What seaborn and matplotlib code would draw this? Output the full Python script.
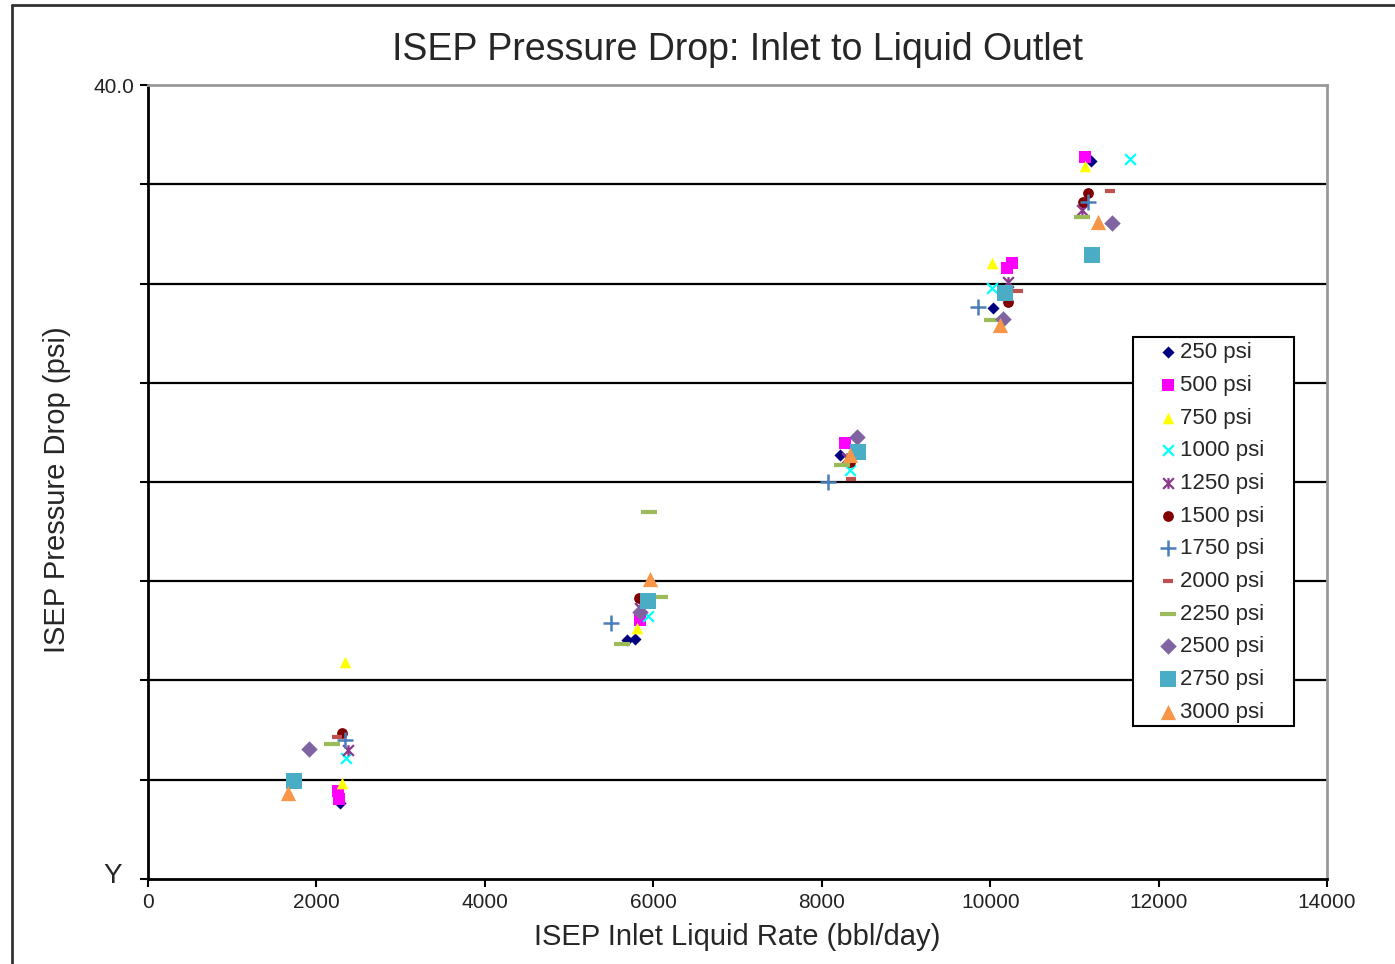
import numpy as np
import pandas as pd
import seaborn as sns
import matplotlib.pyplot as plt
from matplotlib.path import Path
from matplotlib.lines import Line2D
from matplotlib.patches import Rectangle

# ==========================================
# 1. DATA
# ==========================================
series_labels = ['250 psi', '500 psi', '750 psi', '1000 psi', '1250 psi', '1500 psi',
                 '1750 psi', '2000 psi', '2250 psi', '2500 psi', '2750 psi', '3000 psi']

rate_250 = [2280, 5783, 5684, 8217, 10036, 11193]
drop_250 = [3.85, 12.07, 12.04, 21.36, 28.75, 36.19]

rate_500 = [2255, 2265, 5842, 8276, 10200, 10260, 11126]
drop_500 = [4.45, 4.05, 13.05, 21.95, 30.8, 31.05, 36.39]

rate_750 = [2339, 2300, 5810, 8300, 10018, 11126]
drop_750 = [10.93, 4.85, 12.62, 21.2, 31.02, 35.92]

rate_1000 = [2351, 5933, 8330, 10018, 11660]
drop_1000 = [6.08, 13.25, 20.6, 29.75, 36.26]

rate_1250 = [2371, 5842, 8300, 10215, 11087]
drop_1250 = [6.5, 13.65, 21.2, 30.09, 33.7]

rate_1500 = [2300, 5834, 8336, 10215, 11166, 11106]
drop_1500 = [7.34, 14.14, 21.0, 29.08, 34.55, 34.12]

rate_1750 = [2339, 5498, 8078, 9859, 11166]
drop_1750 = [7.0, 12.91, 20.02, 28.83, 34.12]

rate_2000 = [2239, 8343, 10334, 11423]
drop_2000 = [7.17, 20.13, 29.62, 34.67]

rate_2250 = [2181, 5953, 6080, 5625, 8237, 10018, 11087]
drop_2250 = [6.8, 18.47, 14.19, 11.84, 20.86, 28.16, 33.33]

rate_2500 = [1915, 5842, 8415, 10156, 11443]
drop_2500 = [6.53, 13.47, 22.28, 28.21, 33.06]

rate_2750 = [1737, 5933, 8434, 10176, 11206]
drop_2750 = [4.94, 14.02, 21.52, 29.5, 31.44]

rate_3000 = [1666, 5961, 8336, 10117, 11284]
drop_3000 = [4.32, 15.1, 21.36, 27.91, 33.11]

rates = [rate_250, rate_500, rate_750, rate_1000, rate_1250, rate_1500,
         rate_1750, rate_2000, rate_2250, rate_2500, rate_2750, rate_3000]
drops = [drop_250, drop_500, drop_750, drop_1000, drop_1250, drop_1500,
         drop_1750, drop_2000, drop_2250, drop_2500, drop_2750, drop_3000]

df = pd.concat([pd.DataFrame({'rate': r, 'drop': d, 'series': lab})
                for r, d, lab in zip(rates, drops, series_labels)], ignore_index=True)

x_ticks = [0, 2000, 4000, 6000, 8000, 10000, 12000, 14000]

# ==========================================
# 2. STYLE
# ==========================================
# Excel style star: x with a vertical bar through it
star = Path([(-0.5, -0.5), (0.5, 0.5), (-0.5, 0.5), (0.5, -0.5), (0, -0.5), (0, 0.5)],
            [Path.MOVETO, Path.LINETO, Path.MOVETO, Path.LINETO, Path.MOVETO, Path.LINETO])
dash = Path([(-0.5, 0), (0.5, 0)], [Path.MOVETO, Path.LINETO])

styles = {
    '250 psi':  dict(color='#000080', marker='D', s=38, lw=0),
    '500 psi':  dict(color='#FF00FF', marker='s', s=75, lw=0),
    '750 psi':  dict(color='#FFFF00', marker='^', s=70, lw=0),
    '1000 psi': dict(color='#00FFFF', marker='x', s=60, lw=1.6),
    '1250 psi': dict(color='#8B3A8B', marker=star, s=60, lw=1.6),
    '1500 psi': dict(color='#800000', marker='o', s=60, lw=0),
    '1750 psi': dict(color='#4A7EBB', marker='+', s=130, lw=1.8),
    '2000 psi': dict(color='#C0504D', marker=dash, s=55, lw=3.0),
    '2250 psi': dict(color='#9BBB59', marker=dash, s=130, lw=3.0),
    '2500 psi': dict(color='#8064A2', marker='D', s=70, lw=0),
    '2750 psi': dict(color='#4BACC6', marker='s', s=120, lw=0),
    '3000 psi': dict(color='#F79646', marker='^', s=120, lw=0),
}

sns.set_style('white')
plt.rcParams['font.family'] = ['Liberation Sans', 'DejaVu Sans']

fig = plt.figure(figsize=(13.95, 9.64), dpi=100)
ax = fig.add_axes([0.1061, 0.0882, 0.8452, 0.8236])

# ==========================================
# 3. PLOT
# ==========================================
for lab in series_labels:
    st = styles[lab]
    sub = df[df['series'] == lab]
    sns.scatterplot(data=sub, x='rate', y='drop', ax=ax, label=lab,
                    marker=st['marker'], s=st['s'],
                    color=st['color'], edgecolor=st['color'],
                    linewidth=st['lw'], zorder=3)

ax.set_xlim(0, 14000)
ax.set_ylim(0, 40)
ax.set_xticks(x_ticks)
ax.set_xticklabels([str(v) for v in x_ticks], fontsize=15, color='#222222')
ax.set_yticks(np.arange(0, 45, 5))
ax.set_yticklabels([''] * 8 + ['40.0'], fontsize=15, color='#222222')
ax.tick_params(axis='both', direction='out', length=6, width=1.5, color='black',
               left=True, bottom=True, pad=4)

# horizontal gridlines (not at 0 / 40)
ax.grid(True, axis='y', color='black', linewidth=1.6)
gl = ax.get_ygridlines()
gl[0].set_visible(False)
gl[-1].set_visible(False)

for side in ['left', 'bottom']:
    ax.spines[side].set_color('black')
    ax.spines[side].set_linewidth(2)
for side in ['top', 'right']:
    ax.spines[side].set_color('#999999')
    ax.spines[side].set_linewidth(2)

ax.text(-0.022, 0.004, 'Y', transform=ax.transAxes, fontsize=20, ha='right', va='center')

ax.set_title('ISEP Pressure Drop: Inlet to Liquid Outlet', fontsize=27, pad=18)
ax.set_xlabel('ISEP Inlet Liquid Rate (bbl/day)', fontsize=21, labelpad=8)
ax.set_ylabel('ISEP Pressure Drop (psi)', fontsize=21)
ax.yaxis.set_label_coords(-0.065, 0.49)

# legend: frame drawn separately so it can have wide side margins
ax.add_patch(Rectangle((0.835, 0.193), 0.137, 0.49, transform=ax.transAxes,
                       facecolor='white', edgecolor='black', linewidth=1.5, zorder=4.5))
leg = ax.legend(loc='upper left', bbox_to_anchor=(0.8596, 0.676), fontsize=16,
                frameon=False, handlelength=0.6, handletextpad=0.25,
                labelspacing=0.525, borderpad=0, borderaxespad=0)
leg.set_zorder(5)

# outer chart frame (top and left edges visible)
fig.add_artist(Line2D([0.0086, 0.0086], [0.0, 0.9948], transform=fig.transFigure,
                      color='#333333', linewidth=2))
fig.add_artist(Line2D([0.0086, 1.0], [0.9948, 0.9948], transform=fig.transFigure,
                      color='#333333', linewidth=2))

plt.savefig('out.png', dpi=100)
